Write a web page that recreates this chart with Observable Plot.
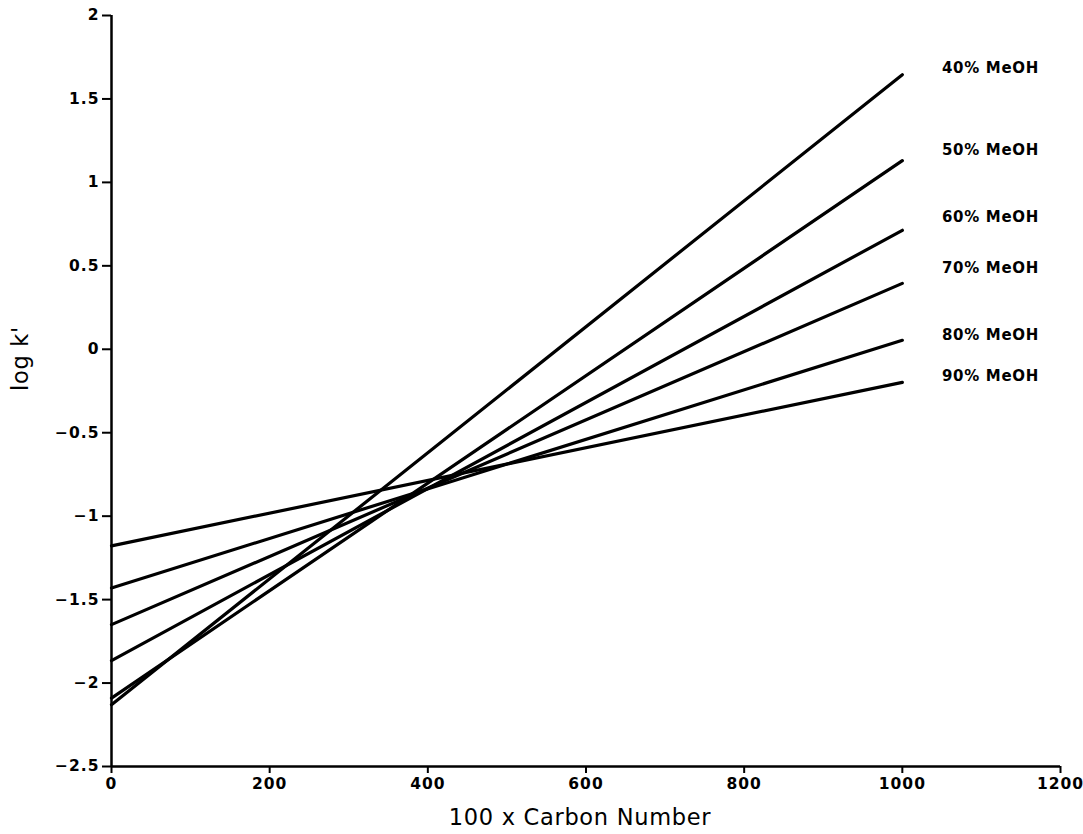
<!DOCTYPE html>
<html>
<head>
<meta charset="utf-8">
<script src="https://cdn.jsdelivr.net/npm/d3@7"></script>
<script src="https://cdn.jsdelivr.net/npm/@observablehq/plot@0.6"></script>
<style>
  html, body { margin: 0; padding: 0; background: white; }
  svg text { letter-spacing: 0.7px; }
  svg g[aria-label="y-axis tick label"] text, svg g[aria-label="x-axis tick label"] text { letter-spacing: 1px; }
</style>
</head>
<body>
<div id="chart"></div>
<script>
// Data
const series = ["40% MeOH", "50% MeOH", "60% MeOH", "70% MeOH", "80% MeOH", "90% MeOH"];
const carbon = [0, 1000];
const logkStart = [-2.13, -2.09, -1.866, -1.65, -1.43, -1.178];
const logkEnd = [1.645, 1.13, 0.713, 0.395, 0.054, -0.198];
const labelY = [1.683, 1.192, 0.79, 0.485, 0.084, -0.162];
const labelX = 1050;
const xTicks = [0, 200, 400, 600, 800, 1000, 1200];
const yTicks = [-2.5, -2, -1.5, -1, -0.5, 0, 0.5, 1, 1.5, 2];

const rows = [];
series.forEach((s, i) => {
  rows.push({series: s, x: carbon[0], y: logkStart[i]});
  rows.push({series: s, x: carbon[1], y: logkEnd[i]});
});
const labels = series.map((s, i) => ({series: s, x: labelX, y: labelY[i]}));
const fmt = d => String(d).replace("-", "\u2212");

const chart = Plot.plot({
  width: 1083,
  height: 834,
  marginLeft: 111,
  marginRight: 23,
  marginTop: 15,
  marginBottom: 68,
  x: {domain: [0, 1200]},
  y: {domain: [-2.5, 2]},
  style: {fontFamily: "DejaVu Sans", background: "white", color: "black"},
  marks: [
    Plot.axisY({ticks: yTicks, tickSize: 9, tickPadding: 3, tickFormat: fmt, label: null,
      fontSize: 15.5, fontWeight: "bold", strokeWidth: 2}),
    Plot.axisX({ticks: xTicks, tickSize: 7, tickPadding: 4, tickFormat: d => String(d), label: null,
      fontSize: 15.5, fontWeight: "bold", strokeWidth: 2}),
    Plot.ruleX([0], {strokeWidth: 2.5}),
    Plot.ruleY([-2.5], {strokeWidth: 2.5}),
    Plot.line(rows, {x: "x", y: "y", z: "series", stroke: "black", strokeWidth: 3.2}),
    Plot.text(labels, {x: "x", y: "y", text: "series", textAnchor: "start", lineAnchor: "middle",
      fontSize: 15, fontWeight: "bold"}),
    Plot.text(["100 x Carbon Number"], {text: d => d, frameAnchor: "bottom", dy: 51, dx: -6,
      lineAnchor: "middle", fontSize: 22.5}),
    Plot.text(["log k'"], {text: d => d, frameAnchor: "left", dx: -91, rotate: -90,
      lineAnchor: "middle", fontSize: 22.5})
  ]
});
document.getElementById("chart").appendChild(chart);
</script>
</body>
</html>
